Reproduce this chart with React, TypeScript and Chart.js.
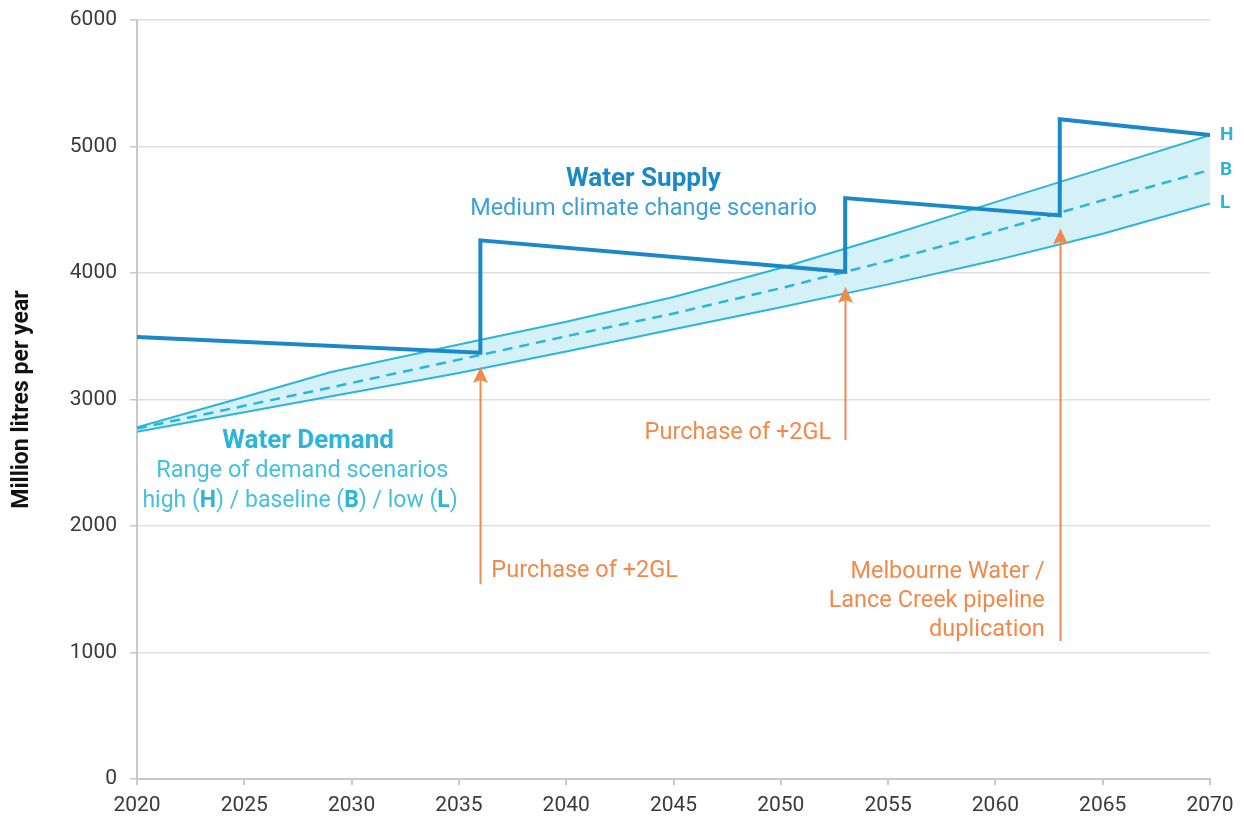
import React, { useEffect, useRef } from "react";
import { Chart, registerables } from "chart.js";
Chart.register(...registerables);

// ---- data ----
const demandYears = [2020, 2025, 2029, 2035, 2040, 2045, 2050, 2055, 2060, 2065, 2070];
const demandHigh = [2780, 3020, 3215, 3435, 3615, 3810, 4040, 4295, 4560, 4825, 5090];
const demandBase = [2770, 2950, 3094, 3315, 3500, 3680, 3880, 4095, 4330, 4575, 4815];
const demandLow = [2745, 2900, 3024, 3210, 3380, 3555, 3730, 3910, 4100, 4310, 4550];

const supplyYears = [2020, 2036, 2036, 2053, 2053, 2063, 2063, 2070];
const supplyValues = [3494, 3370, 4258, 4010, 4592, 4455, 5216, 5091];

const arrowYears = [2036, 2053, 2063];
const arrowBase = [1540, 2680, 1090];
const arrowTip = [3256, 3890, 4352];

const yTicks = [0, 1000, 2000, 3000, 4000, 5000, 6000];
const xTicks = [2020, 2025, 2030, 2035, 2040, 2045, 2050, 2055, 2060, 2065, 2070];

// ---- styles ----
const SUPPLY = "#1a88c9";
const SUPPLY_SUB = "#3d9fd8";
const DEMAND = "#2bb5d8";
const DEMAND_SUB = "#45c0de";
const BAND = "#d5f1f8";
const ORANGE = "#f0894a";
const FONT = "Roboto, 'Noto Sans', sans-serif";

const pts = (xs: number[], ys: number[]) => xs.map((x, i) => ({ x, y: ys[i] }));

const annotPlugin = {
  id: "annot",
  afterDatasetsDraw(chart: any) {
    const { ctx, scales } = chart;
    const x = scales.x;
    const y = scales.y;
    ctx.save();
    // arrows
    arrowYears.forEach((yr, i) => {
      const px = Math.round(x.getPixelForValue(yr)) + 0.5;
      const pb = y.getPixelForValue(arrowBase[i]);
      const pt = y.getPixelForValue(arrowTip[i]);
      ctx.strokeStyle = ORANGE;
      ctx.lineWidth = 2;
      ctx.beginPath();
      ctx.moveTo(px, pb);
      ctx.lineTo(px, pt + 12);
      ctx.stroke();
      ctx.fillStyle = ORANGE;
      ctx.beginPath();
      ctx.moveTo(px, pt);
      ctx.lineTo(px - 7.5, pt + 16);
      ctx.lineTo(px, pt + 13);
      ctx.lineTo(px + 7.5, pt + 16);
      ctx.closePath();
      ctx.fill();
    });

    ctx.textBaseline = "middle";
    const text = (s: string, xv: number, yv: number, font: string, color: string, align: CanvasTextAlign, dx = 0) => {
      ctx.font = font;
      ctx.fillStyle = color;
      ctx.textAlign = align;
      ctx.fillText(s, x.getPixelForValue(xv) + dx, y.getPixelForValue(yv));
    };

    // Water supply
    text("Water Supply", 2043.6, 4743, `bold 26px ${FONT}`, SUPPLY, "center");
    text("Medium climate change scenario", 2043.6, 4505, `23.5px ${FONT}`, SUPPLY_SUB, "center");

    // Water demand
    text("Water Demand", 2027.97, 2668, `bold 26px ${FONT}`, DEMAND, "center");
    text("Range of demand scenarios", 2027.7, 2431, `23.5px ${FONT}`, DEMAND_SUB, "center");
    const segs: [string, boolean][] = [
      ["high (", false], ["H", true], [") / baseline (", false], ["B", true],
      [") / low (", false], ["L", true], [")", false],
    ];
    let total = 0;
    segs.forEach(([s, b]) => {
      ctx.font = `${b ? "bold " : ""}23px ${FONT}`;
      total += ctx.measureText(s).width;
    });
    let cx = x.getPixelForValue(2027.6) - total / 2;
    const cy = y.getPixelForValue(2193);
    ctx.textAlign = "left";
    segs.forEach(([s, b]) => {
      ctx.font = `${b ? "bold " : ""}23px ${FONT}`;
      ctx.fillStyle = b ? DEMAND : DEMAND_SUB;
      ctx.fillText(s, cx, cy);
      cx += ctx.measureText(s).width;
    });

    // arrow labels
    const af = `23.5px ${FONT}`;
    text("Purchase of +2GL", 2036, 1647, af, ORANGE, "left", 11);
    text("Purchase of +2GL", 2053, 2732, af, ORANGE, "right", -14);
    text("Melbourne Water /", 2063, 1639, af, ORANGE, "right", -15);
    text("Lance Creek pipeline", 2063, 1409, af, ORANGE, "right", -15);
    text("duplication", 2063, 1180, af, ORANGE, "right", -15);

    // H / B / L labels
    const last = demandYears[demandYears.length - 1];
    const lf = `bold 19px ${FONT}`;
    text("H", last, demandHigh[demandHigh.length - 1], lf, DEMAND, "left", 10);
    text("B", last, demandBase[demandBase.length - 1], lf, DEMAND, "left", 10);
    text("L", last, demandLow[demandLow.length - 1], lf, DEMAND, "left", 10);
    ctx.restore();
  },
};

export default function App() {
  const ref = useRef<HTMLCanvasElement | null>(null);
  useEffect(() => {
    document.body.style.margin = "0";
    if (!ref.current) return;
    const chart = new Chart(ref.current, {
      type: "line",
      data: {
        datasets: [
          {
            label: "Water Supply",
            data: pts(supplyYears, supplyValues),
            borderColor: SUPPLY,
            borderWidth: 4,
            borderJoinStyle: "miter",
            pointRadius: 0,
            tension: 0,
            fill: false,
          },
          {
            label: "High",
            data: pts(demandYears, demandHigh),
            borderColor: DEMAND,
            borderWidth: 2,
            pointRadius: 0,
            tension: 0,
            fill: false,
          },
          {
            label: "Baseline",
            data: pts(demandYears, demandBase),
            borderColor: DEMAND,
            borderWidth: 2.5,
            borderDash: [10, 7],
            pointRadius: 0,
            tension: 0,
            fill: false,
          },
          {
            label: "Low",
            data: pts(demandYears, demandLow),
            borderColor: DEMAND,
            backgroundColor: BAND,
            borderWidth: 2,
            pointRadius: 0,
            tension: 0,
            fill: 1,
          },
        ],
      },
      options: {
        animation: false,
        responsive: true,
        maintainAspectRatio: false,
        layout: { padding: { top: 20, right: 34, bottom: 0, left: 0 } },
        plugins: {
          legend: { display: false },
          tooltip: { enabled: false },
        },
        scales: {
          x: {
            type: "linear",
            min: 2020,
            max: 2070,
            afterBuildTicks: (s: any) => {
              s.ticks = xTicks.map((v) => ({ value: v }));
            },
            afterFit: (s: any) => {
              s.height = 39;
              s.paddingLeft = 10;
              s.paddingRight = 10;
            },
            ticks: {
              callback: (v: any) => String(v),
              color: "#3a3a3a",
              font: { family: FONT, size: 21 },
              padding: 8,
              maxRotation: 0,
            },
            grid: {
              drawOnChartArea: false,
              drawTicks: true,
              tickLength: 6,
              color: "#c8c8c8",
              lineWidth: 2,
            },
            border: { color: "#c8c8c8", width: 2 },
          },
          y: {
            min: 0,
            max: 6000,
            afterBuildTicks: (s: any) => {
              s.ticks = yTicks.map((v) => ({ value: v }));
            },
            afterFit: (s: any) => {
              s.width = 137;
              s.paddingTop = 10;
              s.paddingBottom = 10;
            },
            ticks: {
              callback: (v: any) => String(v),
              color: "#3a3a3a",
              font: { family: FONT, size: 21 },
              padding: 13,
            },
            grid: {
              color: "#dedede",
              lineWidth: 1.5,
              tickLength: 7,
              tickColor: "#c8c8c8",
            },
            border: { color: "#c8c8c8", width: 2 },
            title: {
              display: true,
              text: "Million litres per year",
              color: "#111",
              font: { family: FONT, size: 23, weight: "bold" },
              padding: { top: 8, bottom: 0 },
            },
          },
        },
      },
      plugins: [annotPlugin],
    } as any);
    return () => chart.destroy();
  }, []);
  return (
    <div style={{ position: "absolute", left: 0, top: 0, width: 1244, height: 818 }}>
      <canvas ref={ref} />
    </div>
  );
}
